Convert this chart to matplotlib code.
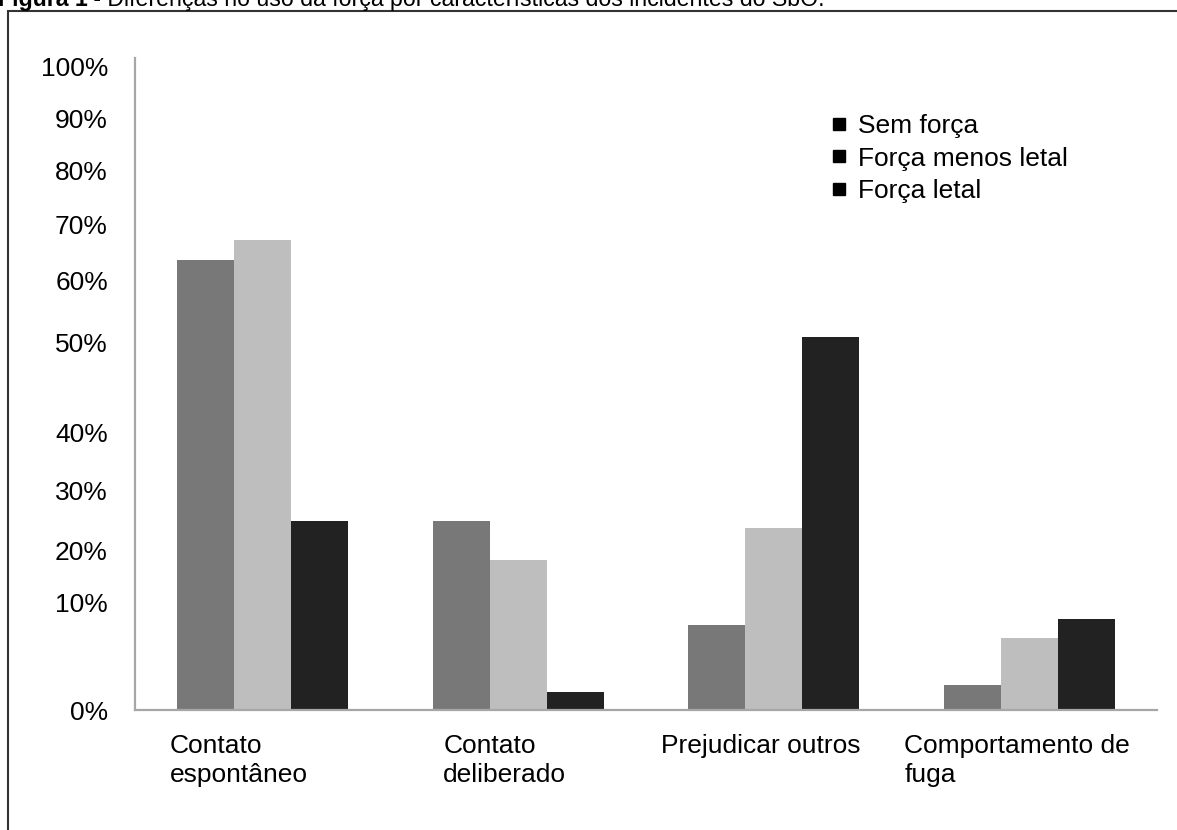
import numpy as np
import matplotlib
matplotlib.use("Agg")
import matplotlib.pyplot as plt
from matplotlib.lines import Line2D
from matplotlib.patches import Rectangle

plt.rcParams['font.family'] = ['Liberation Sans', 'DejaVu Sans']

# data
categories = ["Contato\nespontâneo", "Contato\ndeliberado", "Prejudicar outros", "Comportamento de\nfuga"]
series_names = ["Sem força", "Força menos letal", "Força letal"]
sem_forca = [63.7, 24.9, 7.9, 2.3]
menos_letal = [67.2, 18.1, 23.7, 6.7]
letal = [24.8, 1.7, 50.9, 8.5]
tick_values = [0, 10, 20, 30, 40, 50, 60, 70, 80, 90, 100]
tick_labels = [f"{v}%" for v in tick_values]

colors = ["#787878", "#bebebe", "#222222"]

# the printed axis has unevenly spaced ticks: map each label to its height (px above the base)
knot_height = [0, 107, 160, 220, 277, 367, 429, 486, 539, 592, 644]
k_v = np.array(tick_values + [110.0])
k_h = np.array(knot_height + [644 + 51.0])


def fwd(v):
    return np.interp(v, k_v, k_h)


def inv(h):
    return np.interp(h, k_h, k_v)


fig = plt.figure(figsize=(11.77, 8.30), dpi=100)
ax = fig.add_axes([135 / 1177, 1 - 710 / 830, (1157 - 135) / 1177, (710 - 58) / 830])
ax.set_yscale('function', functions=(fwd, inv))

x = np.arange(len(categories))
w = 0.223
for i, (vals, name) in enumerate(zip([sem_forca, menos_letal, letal], series_names)):
    ax.bar(x + (i - 1) * w, vals, width=w, color=colors[i], label=name, zorder=2)

ax.set_xlim(-0.5, len(categories) - 0.5)
ax.set_ylim(0, inv(652))
ax.set_yticks(tick_values)
ax.set_yticklabels(tick_labels, fontsize=19)
ax.tick_params(axis='y', length=0, pad=19.5)
ax.minorticks_off()
ax.set_xticks([])

for s in ['top', 'right']:
    ax.spines[s].set_visible(False)
for s in ['left', 'bottom']:
    ax.spines[s].set_color('#a6a6a6')
    ax.spines[s].set_linewidth(1.6)

# category labels, left aligned below each group
label_offsets = [-0.364, -0.294, -0.442, -0.489]
for i, (lab, off) in enumerate(zip(categories, label_offsets)):
    ax.text(i + off, -0.037, lab, transform=ax.get_xaxis_transform(), ha='left', va='top',
            fontsize=19, linespacing=1.25)

# legend (all markers black, as printed)
handles = [Line2D([], [], marker='s', color='black', linestyle='none', markersize=8) for _ in series_names]
fig.legend(handles, series_names, loc='upper left', bbox_to_anchor=(826 / 1177, 1 - 114 / 830),
           frameon=False, fontsize=19, handletextpad=0.2, labelspacing=0.33, handlelength=1.0,
           borderaxespad=0, borderpad=0)

# frame around the chart
fig.patches.append(Rectangle((8 / 1177, -0.05), 1.1, 1.05 - 11 / 830, transform=fig.transFigure,
                             fill=False, edgecolor='#333333', linewidth=1.5))

# figure caption, cut off at the top edge
t1 = fig.text(-0.002, 1 - 6 / 830, "Figura 1", fontsize=16.7, fontweight='bold', va='baseline', ha='left')
t2 = fig.text(0, 1 - 6 / 830, " - Diferenças no uso da força por características dos incidentes do SbO.",
              fontsize=16.7, va='baseline', ha='left')
fig.canvas.draw()
bb = t1.get_window_extent()
t2.set_x(bb.x1 / fig.bbox.width)

fig.savefig("out.png", dpi=100)
